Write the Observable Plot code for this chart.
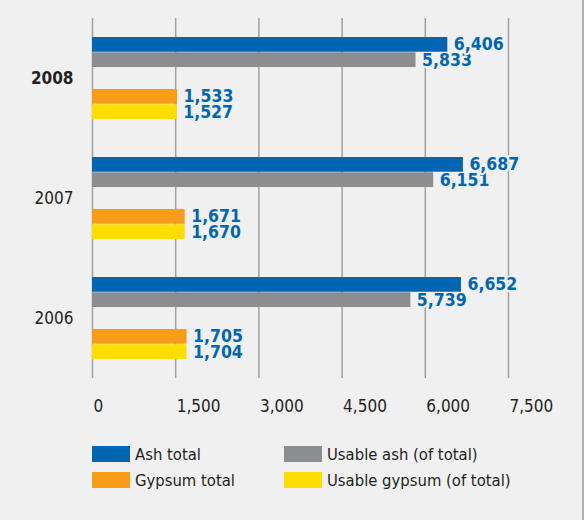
<!DOCTYPE html>
<html>
<head>
<meta charset="utf-8">
<script src="https://cdn.jsdelivr.net/npm/d3@7"></script>
<script src="https://cdn.jsdelivr.net/npm/@observablehq/plot@0.6"></script>
<style>
  html, body { margin: 0; padding: 0; background: #eff0ef; }
  #wrap { position: relative; width: 584px; height: 520px; overflow: hidden; background: #eff0ef;
          font-family: "DejaVu Sans Condensed", "DejaVu Sans", sans-serif; color: #231f20; }
  #edge { position: absolute; left: 582px; top: 0; width: 2px; height: 520px; background: #b0b0b0; }
  #legend { position: absolute; left: 92px; top: 446px; display: grid;
            grid-template-columns: 192px 240px; row-gap: 10px; }
  .item { display: flex; align-items: center; height: 16px; font-size: 16.5px; white-space: nowrap; }
  .sw { display: inline-block; width: 38px; height: 16px; margin-right: 5px; flex: none; }
</style>
</head>
<body>
<div id="wrap"><div id="chart"></div><div id="legend"></div><div id="edge"></div></div>
<script>
// ---- data ----
const years = ["2008", "2007", "2006"];
const ashTotal = [6406, 6687, 6652];
const usableAsh = [5833, 6151, 5739];
const gypsumTotal = [1533, 1671, 1705];
const usableGypsum = [1527, 1670, 1704];
const seriesNames = ["Ash total", "Usable ash (of total)", "Gypsum total", "Usable gypsum (of total)"];
const seriesColors = ["#0066b3", "#8c8d8f", "#f89c1c", "#ffdd00"];
const xTicks = [0, 1500, 3000, 4500, 6000, 7500];

// ---- table ----
const seriesValues = [ashTotal, usableAsh, gypsumTotal, usableGypsum];
const groups = ["ash", "gypsum"];
const rows = [];
years.forEach((yr, i) => {
  seriesValues.forEach((vals, s) => {
    rows.push({year: yr, series: seriesNames[s], group: groups[Math.floor(s / 2)], half: s % 2, value: vals[i]});
  });
});

const bg = "#eff0ef";
const halfBand = 15.25;
const fmt = d3.format(",");

function labelMark(half) {
  return Plot.text(rows.filter(d => d.half === half), {
    fy: "year", y: "group", x: "value", text: d => fmt(d.value),
    dx: 6, dy: (half === 0 ? -1 : 1) * halfBand / 2, textAnchor: "start",
    fontWeight: "bold", fontSize: 17.5, fill: "#0066b3",
    stroke: bg, strokeWidth: 4, strokeLinejoin: "round", paintOrder: "stroke"
  });
}

const chart = Plot.plot({
  width: 584,
  height: 430,
  marginTop: 18,
  marginBottom: 52,
  marginLeft: 92,
  marginRight: 76,
  style: {background: "transparent", fontFamily: "DejaVu Sans Condensed, DejaVu Sans, sans-serif", fontSize: "17px", color: "#231f20"},
  x: {domain: [0, 7500], label: null},
  fy: {domain: years, padding: 0, axis: null, label: null},
  y: {domain: groups, paddingInner: 0.419, paddingOuter: 0.352, axis: null, label: null},
  color: {domain: seriesNames, range: seriesColors},
  marks: [
    Plot.gridX(xTicks, {stroke: "#a0a0a0", strokeOpacity: 1, strokeWidth: 1.5}),
    Plot.axisX(xTicks, {tickSize: 0, tickPadding: 21, textAnchor: "start", dx: 1, tickFormat: fmt, fontSize: 17, label: null}),
    Plot.text(years.filter((d, i) => i === 0), {fy: d => d, text: d => d, frameAnchor: "left", textAnchor: "end", dx: -19, fontWeight: "bold", fontSize: 17}),
    Plot.text(years.filter((d, i) => i > 0), {fy: d => d, text: d => d, frameAnchor: "left", textAnchor: "end", dx: -19, fontSize: 17}),
    labelMark(1),
    labelMark(0),
    Plot.barX(rows.filter(d => d.half === 0), {fy: "year", y: "group", x: "value", fill: "series", insetBottom: halfBand}),
    Plot.barX(rows.filter(d => d.half === 1), {fy: "year", y: "group", x: "value", fill: "series", insetTop: halfBand})
  ]
});
document.getElementById("chart").appendChild(chart);

// ---- legend ----
const legend = document.getElementById("legend");
seriesNames.forEach((name, s) => {
  const item = document.createElement("div");
  item.className = "item";
  const sw = document.createElement("span");
  sw.className = "sw";
  sw.style.background = seriesColors[s];
  item.appendChild(sw);
  item.appendChild(document.createTextNode(name));
  legend.appendChild(item);
});
</script>
</body>
</html>
